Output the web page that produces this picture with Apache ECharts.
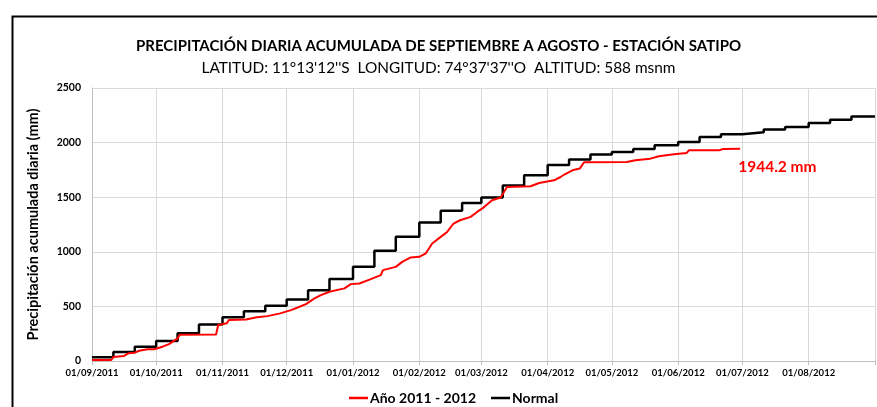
<!DOCTYPE html>
<html>
<head>
<meta charset="utf-8">
<title>Precipitación acumulada - Satipo</title>
<script src="https://cdn.jsdelivr.net/npm/echarts@6/dist/echarts.min.js"></script>
<style>
  html, body { margin: 0; padding: 0; background: #fff; }
  #chart { width: 877px; height: 407px; }
</style>
</head>
<body>
<div id="chart"></div>
<script>
// Año 2011 - 2012 (daily cumulative)
const yearDates = [
  "2011-09-01", "2011-09-10", "2011-09-11", "2011-09-16", "2011-09-18", "2011-09-21",
  "2011-09-23", "2011-09-27", "2011-09-30", "2011-10-04", "2011-10-07", "2011-10-11",
  "2011-10-12", "2011-10-29", "2011-10-30", "2011-11-03", "2011-11-04", "2011-11-12",
  "2011-11-17", "2011-11-22", "2011-11-28", "2011-12-03", "2011-12-07", "2011-12-10",
  "2011-12-14", "2011-12-17", "2011-12-21", "2011-12-28", "2011-12-31", "2012-01-04",
  "2012-01-09", "2012-01-14", "2012-01-15", "2012-01-21", "2012-01-24", "2012-01-28",
  "2012-02-01", "2012-02-04", "2012-02-07", "2012-02-11", "2012-02-14", "2012-02-17",
  "2012-02-20", "2012-02-25", "2012-02-28", "2012-03-02", "2012-03-06", "2012-03-10",
  "2012-03-13", "2012-03-24", "2012-03-28", "2012-04-04", "2012-04-07", "2012-04-09",
  "2012-04-13", "2012-04-16", "2012-04-18", "2012-05-08", "2012-05-12", "2012-05-19",
  "2012-05-23", "2012-05-30", "2012-06-05", "2012-06-06", "2012-06-20", "2012-06-22",
  "2012-06-30"
];
const yearValues = [
  9, 9, 37, 46, 70, 76,
  94, 107, 107, 131, 155, 207,
  240, 242, 329, 345, 375, 381,
  400, 411, 436, 466, 497, 521,
  573, 603, 634, 665, 704, 710,
  747, 786, 832, 862, 908, 948,
  954, 985, 1076, 1137, 1182, 1259,
  1289, 1320, 1365, 1405, 1472, 1497,
  1594, 1600, 1630, 1655, 1685, 1710,
  1750, 1762, 1820, 1822, 1838, 1853,
  1875, 1893, 1905, 1929, 1929, 1941,
  1944.2
];

// Normal (dekadal steps)
const normalDates = [
  "2011-09-01", "2011-09-11", "2011-09-21", "2011-10-01", "2011-10-11", "2011-10-21",
  "2011-11-01", "2011-11-11", "2011-11-21", "2011-12-01", "2011-12-11", "2011-12-21",
  "2012-01-01", "2012-01-11", "2012-01-21", "2012-02-01", "2012-02-11", "2012-02-21",
  "2012-03-01", "2012-03-11", "2012-03-21", "2012-04-01", "2012-04-11", "2012-04-21",
  "2012-05-01", "2012-05-11", "2012-05-21", "2012-06-01", "2012-06-11", "2012-06-21",
  "2012-07-01", "2012-07-11", "2012-07-21", "2012-08-01", "2012-08-11", "2012-08-21",
  "2012-09-01"
];
const normalValues = [
  34, 82, 131, 183, 253, 335,
  400, 455, 506, 564, 649, 750,
  862, 1009, 1137, 1268, 1375, 1448,
  1497, 1607, 1701, 1795, 1845, 1890,
  1914, 1941, 1975, 2005, 2051, 2076,
  2094, 2119, 2143, 2179, 2210, 2240,
  2240
];

const seriesNames = ["Año 2011 - 2012", "Normal"];
const yTicks = [0, 500, 1000, 1500, 2000, 2500];
const axisStart = "2011-09-01";
const axisEnd = "2012-09-01";

const DAY = 24 * 3600 * 1000;
const font = "Lato, 'Open Sans', sans-serif";
const endTime = echarts.time.parse(axisEnd).getTime();

const chart = echarts.init(document.getElementById("chart"));
chart.setOption({
  animation: false,
  textStyle: { fontFamily: font },
  title: [
    {
      text: "PRECIPITACIÓN DIARIA ACUMULADA DE SEPTIEMBRE A AGOSTO - ESTACIÓN SATIPO",
      left: "center",
      top: 34,
      textStyle: { fontSize: 15, fontWeight: "bold", color: "#000", fontFamily: font },
    },
    {
      text: "LATITUD: 11°13'12''S  LONGITUD: 74°37'37''O  ALTITUD: 588 msnm",
      left: "center",
      top: 56,
      textStyle: { fontSize: 15.4, fontWeight: "normal", color: "#000", fontFamily: font },
    },
  ],
  graphic: [
    {
      type: "rect",
      left: 10,
      top: 14,
      shape: { width: 900, height: 420 },
      style: { fill: "none", stroke: "#000", lineWidth: 2 },
    },
  ],
  legend: {
    top: 386,
    left: 344,
    itemWidth: 19,
    itemHeight: 2.5,
    itemGap: 15,
    icon: "rect",
    textStyle: { fontSize: 14, fontWeight: "bold", color: "#000", padding: [0, 0, 0, -3] },
    data: seriesNames,
  },
  grid: {
    left: 92,
    right: 2,
    top: 88,
    bottom: 46,
    outerBoundsMode: "none",
  },
  xAxis: {
    type: "time",
    min: axisStart,
    max: axisEnd,
    splitNumber: 12,
    minInterval: 28 * DAY,
    maxInterval: 31 * DAY,
    axisLine: { lineStyle: { color: "#bfbfbf" } },
    axisTick: { show: true, length: 4, lineStyle: { color: "#bfbfbf" } },
    splitLine: { show: true, lineStyle: { color: "#d9d9d9" } },
    axisLabel: {
      formatter: (v) => (v >= endTime ? "" : echarts.time.format(v, "{dd}/{MM}/{yyyy}")),
      fontSize: 9.5,
      fontWeight: "bold",
      color: "#000",
      margin: 7,
      showMaxLabel: false,
    },
  },
  yAxis: {
    type: "value",
    min: yTicks[0],
    max: yTicks[yTicks.length - 1],
    interval: 500,
    name: "Precipitación acumulada diaria (mm)",
    nameLocation: "middle",
    nameGap: 51,
    nameTextStyle: { fontSize: 14.5, fontWeight: "bold", color: "#000" },
    axisLine: { show: true, lineStyle: { color: "#bfbfbf" } },
    axisTick: { show: false },
    splitLine: { lineStyle: { color: "#d9d9d9" } },
    axisLabel: {
      formatter: (v) => String(v),
      fontSize: 10.5,
      fontWeight: "bold",
      color: "#000",
      margin: 11,
    },
  },
  series: [
    {
      name: seriesNames[0],
      type: "line",
      symbol: "none",
      z: 3,
      lineStyle: { color: "#ff0000", width: 2 },
      itemStyle: { color: "#ff0000" },
      data: yearDates.map((d, i) => [d, yearValues[i]]),
      endLabel: {
        show: true,
        formatter: (p) => p.value[1] + " mm",
        color: "#ff0000",
        fontSize: 15.5,
        fontWeight: "bold",
        offset: [-10, 18],
      },
    },
    {
      name: seriesNames[1],
      type: "line",
      step: "end",
      symbol: "none",
      z: 2,
      lineStyle: { color: "#000", width: 2.5 },
      itemStyle: { color: "#000" },
      data: normalDates.map((d, i) => [d, normalValues[i]]),
    },
  ],
});
</script>
</body>
</html>
